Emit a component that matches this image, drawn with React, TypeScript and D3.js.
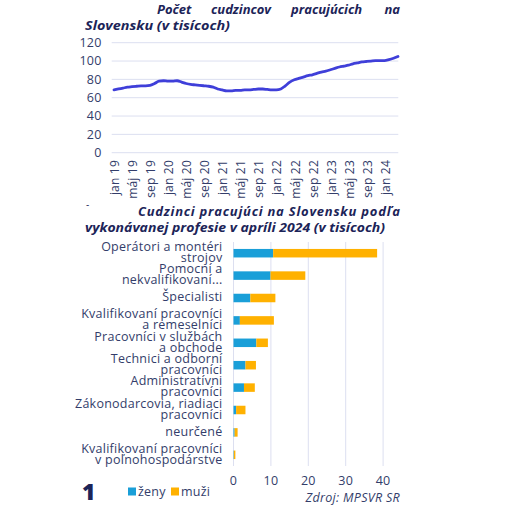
import React from "react";
import * as d3 from "d3";

// ---- Line chart data (thousands of foreign workers, monthly jan 2019 – apr 2024)
const monthNames = ["jan", "feb", "mar", "apr", "máj", "jún", "júl", "aug", "sep", "okt", "nov", "dec"];
const years = [19, 20, 21, 22, 23, 24];
const months: string[] = [];
years.forEach((y) => monthNames.forEach((m) => months.push(`${m} ${y}`)));
const lineMonths = months.slice(0, 64);
const workers = [
  68.5, 69.5, 70.5, 71.5, 72, 72.5, 73, 73, 73.5, 75.5, 78, 78.5,
  78, 78, 78.5, 77, 75.5, 74.5, 74, 73.5, 73, 72.5, 71.5, 69.5,
  68.5, 67.5, 67.5, 68, 68, 68.5, 68.5, 69, 69.5, 69.5, 69, 68.5,
  68.5, 69.5, 73, 77, 79.5, 81, 82.5, 84, 85, 86.5, 88, 89,
  90.5, 92, 93.5, 94.5, 95.5, 97, 98, 99, 99.5, 100, 100.5, 100.5,
  100.5, 101.5, 103, 105,
];
const lineYTicks = [0, 20, 40, 60, 80, 100, 120];

// ---- Bar chart data (April 2024, thousands)
const professions = [
  ["Operátori a montéri", "strojov"],
  ["Pomocní a", "nekvalifikovaní..."],
  ["Špecialisti"],
  ["Kvalifikovaní pracovníci", "a remeselníci"],
  ["Pracovníci v službách", "a obchode"],
  ["Technici a odborní", "pracovníci"],
  ["Administratívni", "pracovníci"],
  ["Zákonodarcovia, riadiaci", "pracovníci"],
  ["neurčené"],
  ["Kvalifikovaní pracovníci", "v poľnohospodárstve"],
];
const zeny = [10.6, 9.9, 4.5, 1.7, 6.1, 3.2, 2.8, 0.7, 0.3, 0.1];
const muzi = [27.8, 9.3, 6.7, 9.1, 3.1, 2.8, 2.9, 2.5, 0.8, 0.4];
const barXTicks = [0, 10, 20, 30, 40];
const seriesNames = ["ženy", "muži"];

const COLORS = {
  zeny: "#1a9fd8",
  muzi: "#ffb100",
  line: "#3f3fd9",
  grid: "#dcdff0",
  text: "#333d6a",
  title: "#1c2458",
};
const FONT = "'Open Sans', sans-serif";

export default function App() {
  // line chart scales
  const xL = d3.scalePoint<string>().domain(lineMonths).range([114, 398]);
  const yL = d3.scaleLinear().domain([0, 120]).range([152.7, 42.7]);
  const lineGen = d3
    .line<number>()
    .x((_, i) => xL(lineMonths[i]) as number)
    .y((d) => yL(d))
    .curve(d3.curveMonotoneX);

  // bar chart scales
  const keys = professions.map((p) => p.join(" "));
  const yB = d3.scaleBand<string>().domain(keys).range([242, 466]).paddingInner(0.62).paddingOuter(0.31);
  const xB = d3.scaleLinear().domain([0, 45]).range([233.5, 401.8]);
  const stackData = keys.map((k, i) => ({ key: k, zeny: zeny[i], muzi: muzi[i] }));
  const stacked = d3.stack<any>().keys(["zeny", "muzi"])(stackData);

  return (
    <svg
      width={528}
      height={507}
      style={{ position: "absolute", left: 0, top: 0, background: "#fff" }}
      fontFamily={FONT}
    >
      {/* Title 1 (justified) */}
      <g fill={COLORS.title} fontWeight={700} fontStyle="italic" fontSize={13}>
        <text x={157} y={14}>Počet</text>
        <text x={211} y={14}>cudzincov</text>
        <text x={291} y={14}>pracujúcich</text>
        <text x={400} y={14} textAnchor="end">na</text>
        <text x={85} y={29.5} textLength={145} lengthAdjust="spacingAndGlyphs">Slovensku (v tisícoch)</text>
      </g>

      {/* Line chart grid */}
      {lineYTicks.map((t) => (
        <g key={t}>
          <line x1={111.7} x2={398.3} y1={yL(t)} y2={yL(t)} stroke={COLORS.grid} strokeWidth={1} />
          <text x={101.5} y={yL(t)} dy="0.35em" textAnchor="end" fontSize={12.5} letterSpacing={0.2} fill={COLORS.text}>
            {t}
          </text>
        </g>
      ))}
      {lineMonths.map((m, i) =>
        i % 4 === 0 ? (
          <text
            key={m}
            transform={`translate(${(xL(m) as number) + 1},160) rotate(-90)`}
            textAnchor="end"
            dy="0.35em"
            fontSize={12}
            letterSpacing={0.2}
            fill={COLORS.text}
          >
            {m}
          </text>
        ) : null
      )}
      <path d={lineGen(workers) || ""} fill="none" stroke={COLORS.line} strokeWidth={2.8} strokeLinejoin="round" strokeLinecap="round" />

      {/* Title 2 */}
      <text x={86} y={208} fontSize={10} fill={COLORS.title}>-</text>
      <g fill={COLORS.title} fontWeight={700} fontStyle="italic" fontSize={13}>
        <text x={138} y={216} textLength={262} lengthAdjust="spacing">Cudzinci pracujúci na Slovensku podľa</text>
        <text x={85} y={232} textLength={300} lengthAdjust="spacingAndGlyphs">vykonávanej profesie v apríli 2024 (v tisícoch)</text>
      </g>

      {/* Bar chart grid */}
      {barXTicks.map((t) => (
        <g key={t}>
          <line x1={xB(t)} x2={xB(t)} y1={242} y2={466} stroke={COLORS.grid} strokeWidth={1} />
          <text x={xB(t)} y={481} dy="0.35em" textAnchor="middle" fontSize={12.5} letterSpacing={0.2} fill={COLORS.text}>
            {t}
          </text>
        </g>
      ))}

      {/* Bars */}
      {stacked.map((s, si) => (
        <g key={s.key} fill={si === 0 ? COLORS.zeny : COLORS.muzi}>
          {s.map((d, i) => (
            <rect
              key={i}
              x={xB(d[0])}
              y={yB(keys[i]) as number}
              width={Math.max(0, xB(d[1]) - xB(d[0]))}
              height={yB.bandwidth()}
            />
          ))}
        </g>
      ))}

      {/* Category labels */}
      {professions.map((lines, i) => {
        const cy = (yB(keys[i]) as number) + yB.bandwidth() / 2;
        return (
          <text key={i} textAnchor="end" fontSize={12.5} letterSpacing={0.25} fill={COLORS.text}>
            {lines.length === 1 ? (
              <tspan x={222.5} y={cy - 1} dy="0.35em">{lines[0]}</tspan>
            ) : (
              <>
                <tspan x={222.5} y={cy - 6.5} dy="0.35em">{lines[0]}</tspan>
                <tspan x={222.5} y={cy + 4.5} dy="0.35em">{lines[1]}</tspan>
              </>
            )}
          </text>
        );
      })}

      {/* Footer */}
      <text x={82} y={492} dy="0.35em" fontSize={23} fontWeight={800} fill={COLORS.title}>1</text>
      <rect x={128} y={487.5} width={8} height={8} fill={COLORS.zeny} />
      <text x={138} y={492} dy="0.35em" fontSize={12.5} letterSpacing={0.2} fill={COLORS.text}>{seriesNames[0]}</text>
      <rect x={171} y={487.5} width={8} height={8} fill={COLORS.muzi} />
      <text x={181} y={492} dy="0.35em" fontSize={12.5} letterSpacing={0.2} fill={COLORS.text}>{seriesNames[1]}</text>
      <text x={400} y={498} dy="0.35em" textAnchor="end" fontSize={12.5} letterSpacing={0.3} fontStyle="italic" fill={COLORS.text}>
        Zdroj: MPSVR SR
      </text>
    </svg>
  );
}
